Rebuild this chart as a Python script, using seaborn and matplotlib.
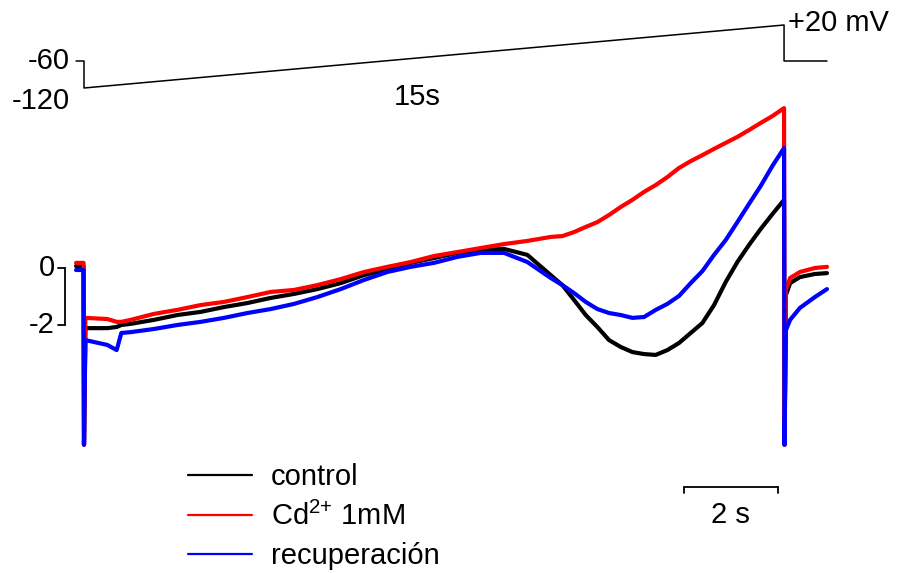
import numpy as np
import pandas as pd
import matplotlib
matplotlib.use('Agg')
import matplotlib.pyplot as plt
import seaborn as sns

# tiempos (s) y corrientes (nA)
t_pre = [-0.17, -0.01]
t_ramp = [0.03, 0.5, 0.7, 0.8, 1.0, 1.5, 2.0, 2.5, 3.0, 3.5, 4.0, 4.5, 5.0, 5.5, 6.0, 6.5,
          7.0, 7.5, 8.0, 8.5, 9.0, 9.5, 10.0, 10.25, 10.5, 10.75, 11.0, 11.25, 11.5, 11.75,
          12.0, 12.25, 12.5, 12.75, 13.0, 13.25, 13.5, 13.75, 14.0, 14.25, 14.5, 14.75, 15.0]
t_post = [15.04, 15.13, 15.34, 15.66, 15.92]
t_trans = [0.0, 15.01]
i_trans = -6.2

control_pre = [0.07, 0.07]
control_ramp = [-2.11, -2.11, -2.07, -2.00, -1.96, -1.82, -1.65, -1.54, -1.37, -1.23, -1.05,
                -0.91, -0.74, -0.53, -0.25, -0.04, 0.18, 0.35, 0.53, 0.63, 0.67, 0.46,
                -0.25, -0.60, -1.12, -1.65, -2.07, -2.53, -2.77, -2.95, -3.02, -3.05, -2.88,
                -2.63, -2.28, -1.93, -1.30, -0.49, 0.21, 0.81, 1.37, 1.89, 2.39]
control_post = [-0.95, -0.53, -0.32, -0.21, -0.18]

cd_pre = [0.18, 0.18]
cd_ramp = [-1.75, -1.79, -1.89, -1.89, -1.82, -1.61, -1.47, -1.30, -1.19, -1.02, -0.84,
           -0.77, -0.60, -0.39, -0.14, 0.04, 0.21, 0.42, 0.56, 0.70, 0.84, 0.95, 1.09,
           1.12, 1.26, 1.44, 1.61, 1.86, 2.14, 2.39, 2.67, 2.91, 3.19, 3.51, 3.75, 3.96,
           4.18, 4.39, 4.60, 4.84, 5.09, 5.33, 5.61]
cd_post = [-0.77, -0.35, -0.14, 0.00, 0.04]

rec_pre = [-0.07, -0.07]
rec_ramp = [-2.53, -2.70, -2.88, -2.28, -2.25, -2.14, -2.00, -1.89, -1.75, -1.58, -1.44,
            -1.26, -1.02, -0.74, -0.42, -0.14, 0.04, 0.18, 0.39, 0.53, 0.53, 0.21, -0.35,
            -0.60, -0.88, -1.19, -1.44, -1.58, -1.65, -1.75, -1.72, -1.47, -1.26, -0.98,
            -0.53, -0.11, 0.46, 0.98, 1.61, 2.25, 2.88, 3.58, 4.21]
rec_post = [-2.18, -1.82, -1.40, -1.02, -0.74]

labels = ['control', 'Cd$^{2{+}}$ 1mM', 'recuperación']
colors = ['black', '#ff0000', '#0000ff']

# protocolo de voltaje (mV)
v_t = [-0.17, 0.0, 0.0, 15.0, 15.0, 15.92]
v_mv = [-60, -60, -120, 20, -60, -60]

# escalas
scale_t = [12.86, 14.86]
scale_i = [0, -2]


def build(pre, ramp, post):
    t = t_pre + [t_trans[0]] + t_ramp + [t_trans[1]] + t_post
    i = pre + [i_trans] + ramp + [i_trans] + post
    return t, i


rows = []
for lab, (pre, ramp, post) in zip(labels, [(control_pre, control_ramp, control_post),
                                           (cd_pre, cd_ramp, cd_post),
                                           (rec_pre, rec_ramp, rec_post)]):
    t, i = build(pre, ramp, post)
    rows.append(pd.DataFrame({'t': t, 'I': i, 'cond': lab}))
df = pd.concat(rows, ignore_index=True)

sns.set_theme(style='white')
plt.rcParams['font.family'] = ['Liberation Sans', 'DejaVu Sans']
plt.rcParams['text.color'] = 'black'
plt.rcParams['mathtext.fontset'] = 'custom'
plt.rcParams['mathtext.rm'] = 'Liberation Sans'
plt.rcParams['mathtext.it'] = 'Liberation Sans'
plt.rcParams['mathtext.default'] = 'regular'

fig = plt.figure(figsize=(8.98, 5.73), dpi=100)
ax = fig.add_axes([0, 0, 1, 1])
axv = fig.add_axes([0, 0, 1, 1])
axv.patch.set_alpha(0)

# pixeles: x = 84 + 46.67 t ; y = 268 - 28.5 I
ax.set_xlim(-84 / 46.67, (898 - 84) / 46.67)
ax.set_ylim((268 - 573) / 28.5, 268 / 28.5)
axv.set_xlim(ax.get_xlim())
axv.set_ylim(-60 - 512 / 0.45, -60 + 61 / 0.45)

sns.lineplot(data=df, x='t', y='I', hue='cond', hue_order=labels,
             palette=dict(zip(labels, colors)), estimator=None, sort=False,
             lw=3, ax=ax)

axv.plot(v_t, v_mv, color='black', lw=1.1)

fs = 21
axv.text(-0.3, -60, '-60', ha='right', va='center', fontsize=fs)
axv.text(-0.3, -149, '-120', ha='right', va='center', fontsize=fs)
axv.text(7.14, -140, '15s', ha='center', va='center', fontsize=fs)
axv.text(15.08, 24, '+20 mV', ha='left', va='center', fontsize=fs)

# barra de corriente
bx = -0.41
ax.plot([bx, bx], scale_i, color='black', lw=1.3)
for v in scale_i:
    ax.plot([bx - 0.15, bx], [v, v], color='black', lw=1.3)
    ax.text(-0.62, v, f'{v}', ha='right', va='center', fontsize=fs)

# barra de tiempo
by = -7.68
ax.plot(scale_t, [by, by], color='black', lw=1.3)
for s in scale_t:
    ax.plot([s, s], [by, by - 0.22], color='black', lw=1.3)
ax.text(np.mean(scale_t), -8.67, f'{scale_t[1] - scale_t[0]:.0f} s', ha='center',
        va='center', fontsize=fs)

leg = ax.legend(loc='upper left', bbox_to_anchor=(188 / 898, 1 - 463 / 573),
                bbox_transform=fig.transFigure, frameon=False, fontsize=fs,
                handlelength=2.2, handletextpad=0.65, labelspacing=0.37, borderpad=0,
                borderaxespad=0, title=None)
for h in leg.get_lines():
    h.set_linewidth(1.6)

ax.axis('off')
axv.axis('off')
fig.savefig('out.png', dpi=100)
